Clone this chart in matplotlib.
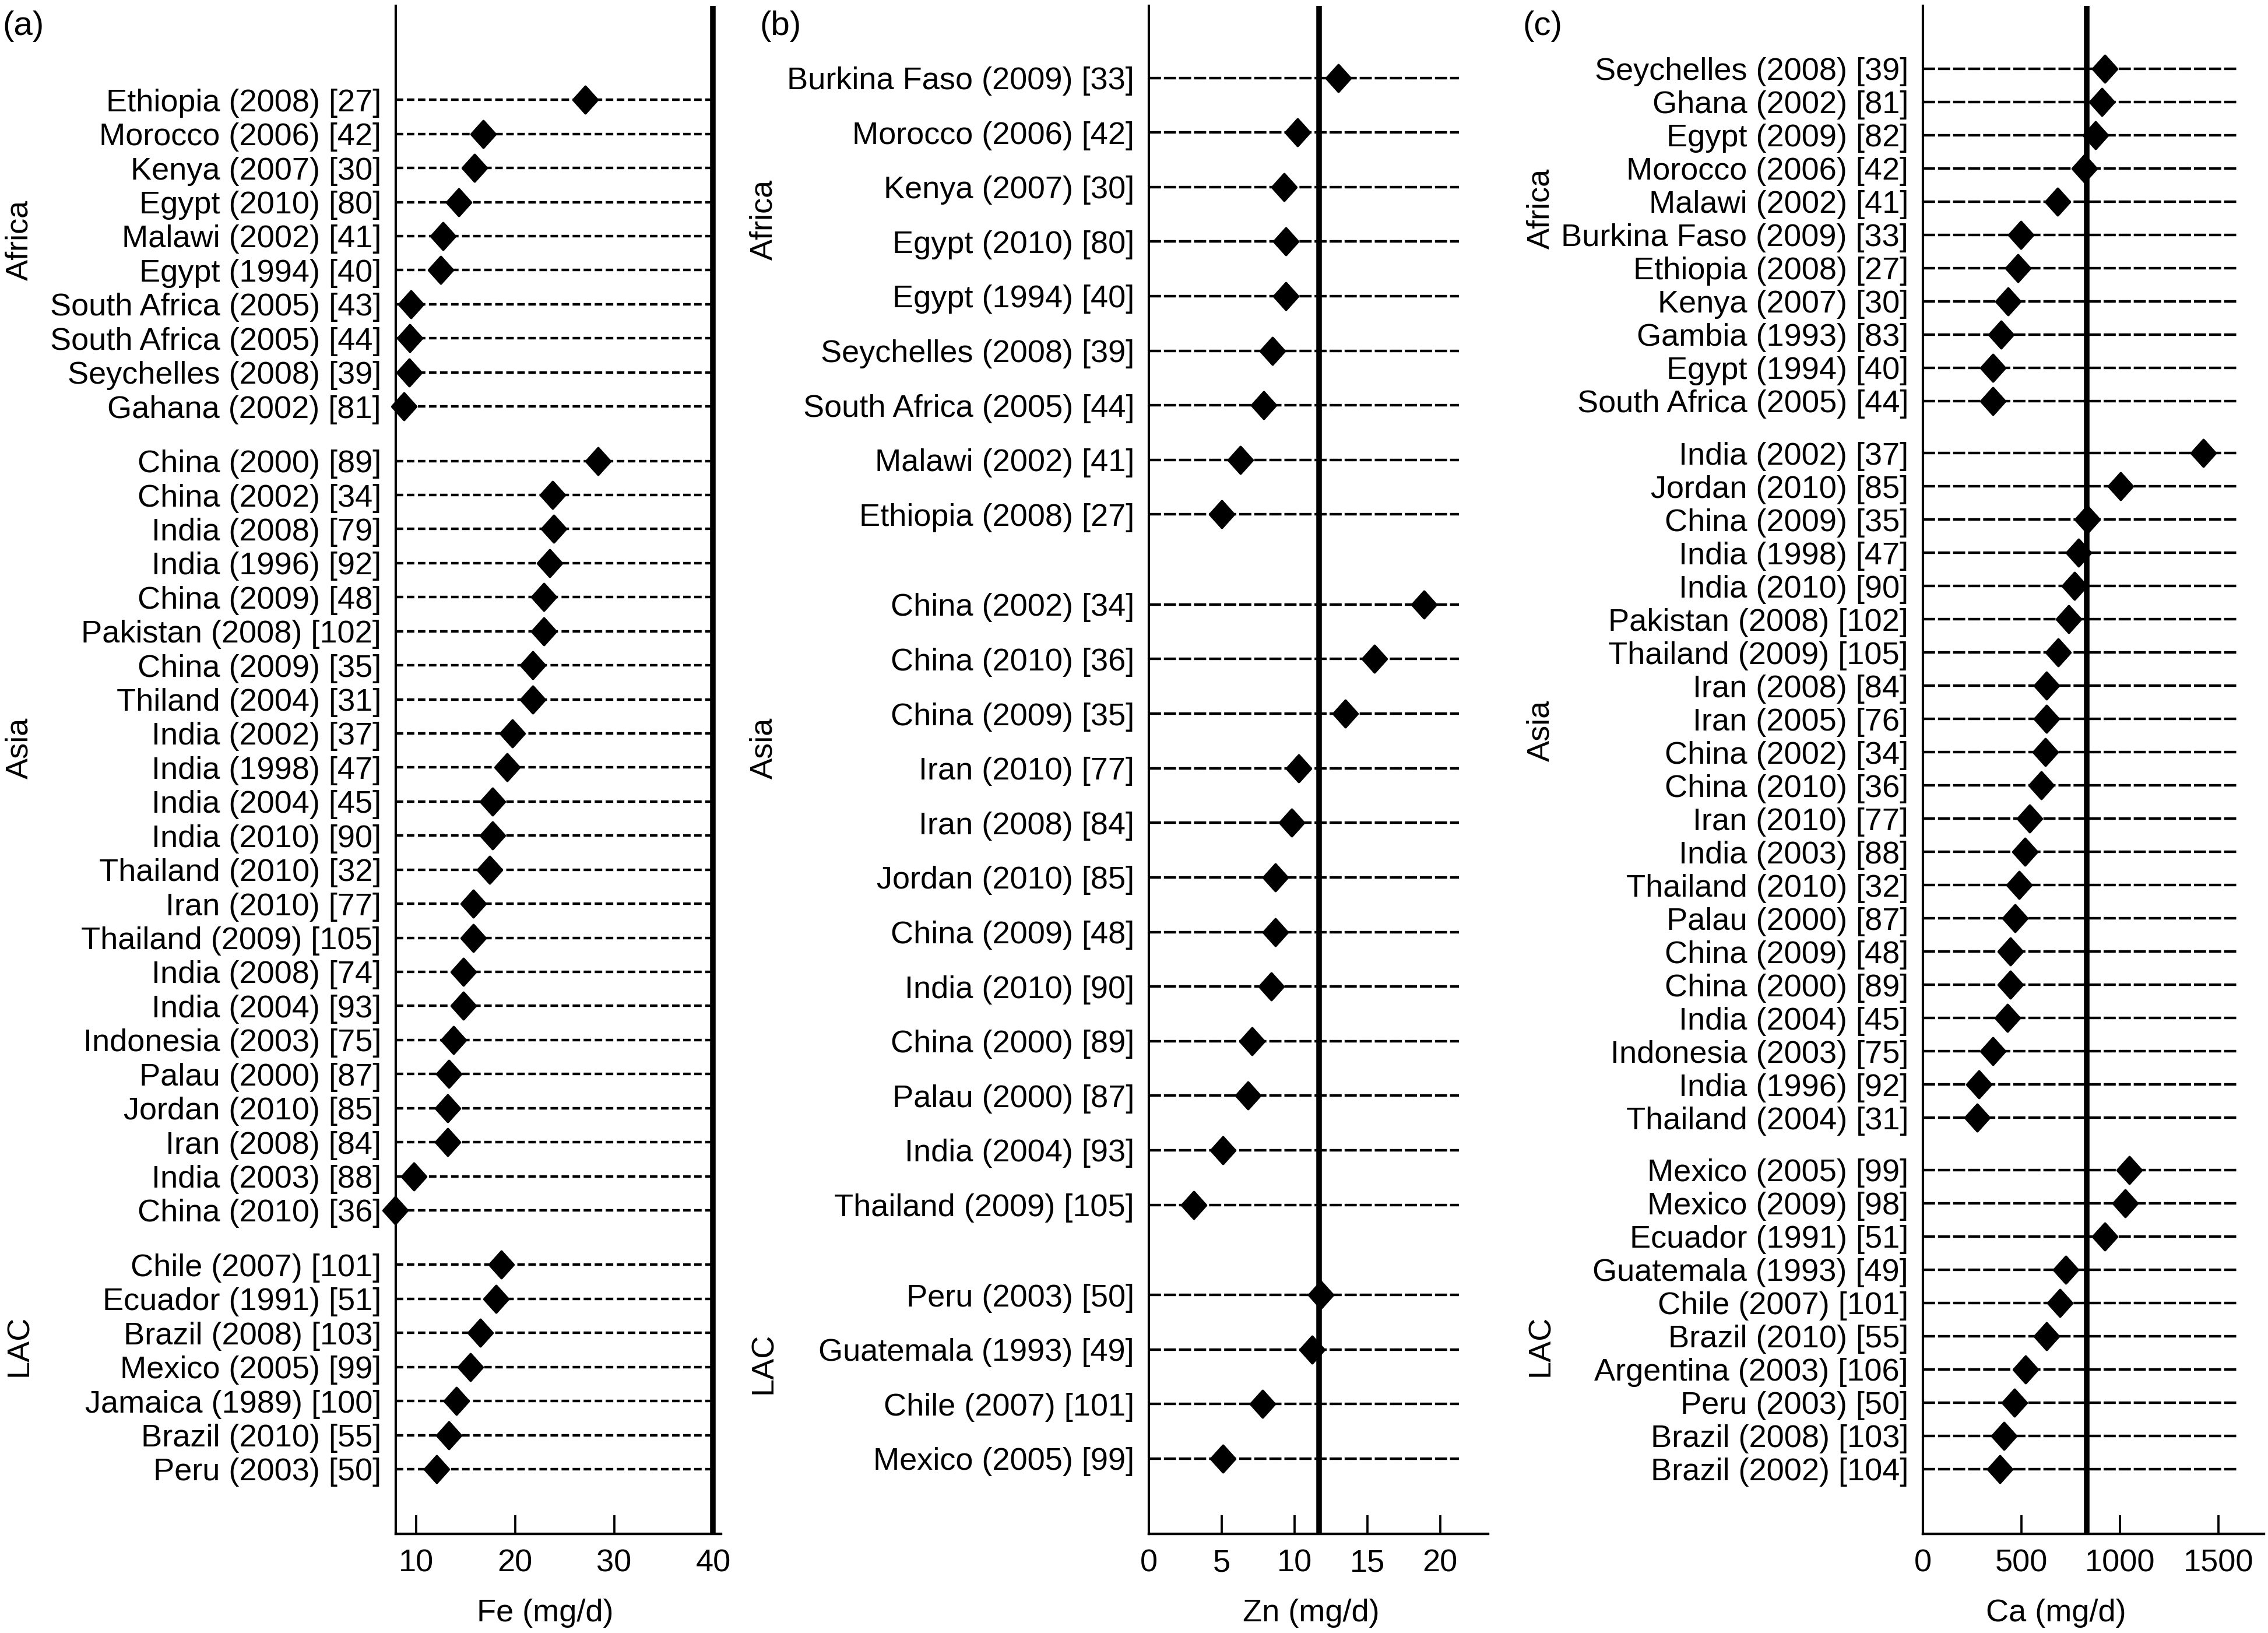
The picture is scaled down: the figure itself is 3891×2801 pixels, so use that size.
import matplotlib
matplotlib.use('Agg')
import matplotlib.pyplot as plt
from matplotlib.path import Path

plt.rcParams['font.family'] = ['Liberation Sans', 'DejaVu Sans']

# ---------------- data ----------------
# (a) Fe
fe_africa_labels = ["Ethiopia (2008) [27]", "Morocco (2006) [42]", "Kenya (2007) [30]", "Egypt (2010) [80]",
                    "Malawi (2002) [41]", "Egypt (1994) [40]", "South Africa (2005) [43]",
                    "South Africa (2005) [44]", "Seychelles (2008) [39]", "Gahana (2002) [81]"]
fe_africa = [27.1, 16.8, 15.9, 14.3, 12.7, 12.5, 9.5, 9.35, 9.3, 8.8]
fe_asia_labels = ["China (2000) [89]", "China (2002) [34]", "India (2008) [79]", "India (1996) [92]",
                  "China (2009) [48]", "Pakistan (2008) [102]", "China (2009) [35]", "Thiland (2004) [31]",
                  "India (2002) [37]", "India (1998) [47]", "India (2004) [45]", "India (2010) [90]",
                  "Thailand (2010) [32]", "Iran (2010) [77]", "Thailand (2009) [105]", "India (2008) [74]",
                  "India (2004) [93]", "Indonesia (2003) [75]", "Palau (2000) [87]", "Jordan (2010) [85]",
                  "Iran (2008) [84]", "India (2003) [88]", "China (2010) [36]"]
fe_asia = [28.4, 23.8, 23.9, 23.5, 22.9, 22.9, 21.8, 21.8, 19.7, 19.2, 17.7, 17.7, 17.4, 15.8, 15.8,
           14.8, 14.8, 13.8, 13.3, 13.2, 13.2, 9.8, 7.9]
fe_lac_labels = ["Chile (2007) [101]", "Ecuador (1991) [51]", "Brazil (2008) [103]", "Mexico (2005) [99]",
                 "Jamaica (1989) [100]", "Brazil (2010) [55]", "Peru (2003) [50]"]
fe_lac = [18.6, 18.1, 16.5, 15.5, 14.1, 13.3, 12.1]
fe_ticks = [10, 20, 30, 40]

# (b) Zn
zn_africa_labels = ["Burkina Faso (2009) [33]", "Morocco (2006) [42]", "Kenya (2007) [30]", "Egypt (2010) [80]",
                    "Egypt (1994) [40]", "Seychelles (2008) [39]", "South Africa (2005) [44]",
                    "Malawi (2002) [41]", "Ethiopia (2008) [27]"]
zn_africa = [13.0, 10.2, 9.3, 9.4, 9.4, 8.5, 7.9, 6.3, 5.0]
zn_asia_labels = ["China (2002) [34]", "China (2010) [36]", "China (2009) [35]", "Iran (2010) [77]",
                  "Iran (2008) [84]", "Jordan (2010) [85]", "China (2009) [48]", "India (2010) [90]",
                  "China (2000) [89]", "Palau (2000) [87]", "India (2004) [93]", "Thailand (2009) [105]"]
zn_asia = [18.9, 15.5, 13.5, 10.3, 9.8, 8.7, 8.7, 8.4, 7.1, 6.8, 5.1, 3.1]
zn_lac_labels = ["Peru (2003) [50]", "Guatemala (1993) [49]", "Chile (2007) [101]", "Mexico (2005) [99]"]
zn_lac = [11.8, 11.2, 7.8, 5.1]
zn_ticks = [0, 5, 10, 15, 20]

# (c) Ca
ca_africa_labels = ["Seychelles (2008) [39]", "Ghana (2002) [81]", "Egypt (2009) [82]", "Morocco (2006) [42]",
                    "Malawi (2002) [41]", "Burkina Faso (2009) [33]", "Ethiopia (2008) [27]",
                    "Kenya (2007) [30]", "Gambia (1993) [83]", "Egypt (1994) [40]", "South Africa (2005) [44]"]
ca_africa = [923, 908, 874, 818, 684, 497, 482, 433, 397, 355, 355]
ca_asia_labels = ["India (2002) [37]", "Jordan (2010) [85]", "China (2009) [35]", "India (1998) [47]",
                  "India (2010) [90]", "Pakistan (2008) [102]", "Thailand (2009) [105]", "Iran (2008) [84]",
                  "Iran (2005) [76]", "China (2002) [34]", "China (2010) [36]", "Iran (2010) [77]",
                  "India (2003) [88]", "Thailand (2010) [32]", "Palau (2000) [87]", "China (2009) [48]",
                  "China (2000) [89]", "India (2004) [45]", "Indonesia (2003) [75]", "India (1996) [92]",
                  "Thailand (2004) [31]"]
ca_asia = [1422, 1003, 834, 790, 768, 738, 687, 628, 628, 621, 599, 540, 518, 489, 467, 445, 445, 430,
           356, 283, 276]
ca_lac_labels = ["Mexico (2005) [99]", "Mexico (2009) [98]", "Ecuador (1991) [51]", "Guatemala (1993) [49]",
                 "Chile (2007) [101]", "Brazil (2010) [55]", "Argentina (2003) [106]", "Peru (2003) [50]",
                 "Brazil (2008) [103]", "Brazil (2002) [104]"]
ca_lac = [1047, 1025, 922, 724, 695, 628, 519, 464, 412, 390]
ca_ticks = [0, 500, 1000, 1500]

group_names = ["Africa", "Asia", "LAC"]

# ---------------- layout ----------------
W, H, DPI = 3891, 2801, 300
fig = plt.figure(figsize=(W / DPI, H / DPI), dpi=DPI)
FS = 13

diamond = Path([(0, 1), (0.9, 0), (0, -1), (-0.9, 0), (0, 1)],
               [Path.MOVETO, Path.LINETO, Path.LINETO, Path.LINETO, Path.CLOSEPOLY])

panels = [
    dict(groups=[(fe_africa_labels, fe_africa), (fe_asia_labels, fe_asia), (fe_lac_labels, fe_lac)],
         left=679, right=1237, xlim=(7.95, 40.8), ticks=fe_ticks, ref=40, dash_end=40.0,
         gap=1.6, top=2.76, bot=1.90, xlabel="Fe (mg/d)", xlab_x=0.459, dash=(3.1, 1.45),
         tag="(a)", tag_x=4, grp_x=33, grp_y=[412, 1283, 2308]),
    dict(groups=[(zn_africa_labels, zn_africa), (zn_asia_labels, zn_asia), (zn_lac_labels, zn_lac)],
         left=1971, right=2553, xlim=(0, 23.3), ticks=zn_ticks, ref=11.7, dash_end=21.3,
         gap=1.65, top=1.32, bot=1.38, xlabel="Zn (mg/d)", xlab_x=0.479, dash=(5.0, 1.2),
         tag="(b)", tag_x=1303, grp_x=1310, grp_y=[377, 1283, 2338]),
    dict(groups=[(ca_africa_labels, ca_africa), (ca_asia_labels, ca_asia), (ca_lac_labels, ca_lac)],
         left=3299, right=3884, xlim=(0, 1730), ticks=ca_ticks, ref=830, dash_end=1590,
         gap=1.57, top=1.89, bot=1.95, xlabel="Ca (mg/d)", xlab_x=0.391, dash=(5.0, 1.2),
         tag="(c)", tag_x=2612, grp_x=2643, grp_y=[358, 1253, 2308]),
]

AX_TOP, AX_BOT = 10, 2631

for p in panels:
    ax = fig.add_axes([p['left'] / W, 1 - AX_BOT / H, (p['right'] - p['left']) / W, (AX_BOT - AX_TOP) / H])
    labels, vals, ys = [], [], []
    y = 0.0
    for gi, (lab, v) in enumerate(p['groups']):
        if gi > 0:
            y += p['gap'] - 1
        for l, val in zip(lab, v):
            labels.append(l)
            vals.append(val)
            ys.append(y)
            y += 1
    last = ys[-1]
    lw = 1.05
    ax.hlines(ys, p['xlim'][0], p['dash_end'], colors='k', linewidth=lw,
              linestyles=[(0, (p['dash'][0] / lw, p['dash'][1] / lw))], zorder=1)
    ax.axvline(p['ref'], color='k', linewidth=2.3, zorder=2)
    ax.plot(vals, ys, linestyle='none', marker=diamond, markersize=11, color='k', zorder=3,
            clip_on=False)

    ax.set_xlim(*p['xlim'])
    ax.set_ylim(last + p['bot'], -p['top'])
    ax.set_yticks(ys)
    ax.set_yticklabels(labels, fontsize=FS)
    ax.tick_params(axis='y', length=0, pad=6)
    ax.set_xticks(p['ticks'])
    ax.set_xticklabels([str(t) for t in p['ticks']], fontsize=FS)
    ax.tick_params(axis='x', direction='in', length=7.6, width=0.9, pad=6, top=False)
    for s in ['top', 'right']:
        ax.spines[s].set_visible(False)
    ax.spines['left'].set_linewidth(1.0)
    ax.spines['bottom'].set_linewidth(1.05)
    ax.set_xlabel(p['xlabel'], fontsize=FS)
    ax.xaxis.label.set_va('center')
    ax.xaxis.set_label_coords(p['xlab_x'], (AX_BOT - 2767) / (AX_BOT - AX_TOP))

    fig.text(p['tag_x'] / W, 1 - 45 / H, p['tag'], fontsize=14, ha='left', va='center')
    for name, gy in zip(group_names, p['grp_y']):
        fig.text(p['grp_x'] / W, 1 - gy / H, name, fontsize=FS, rotation=90, ha='center', va='center')

fig.savefig('out.png', dpi=DPI)
